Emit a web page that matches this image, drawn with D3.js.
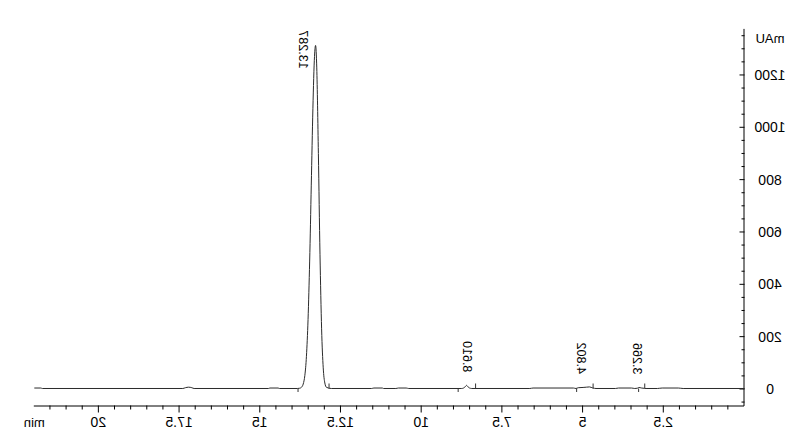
<!DOCTYPE html>
<html>
<head>
<meta charset="utf-8">
<script src="https://cdn.jsdelivr.net/npm/d3@7"></script>
<style>
  html, body { margin: 0; padding: 0; background: #fff; }
  svg { display: block; font-family: "Liberation Sans", Arial, sans-serif; }
</style>
</head>
<body>
<svg id="chart" width="803" height="444"></svg>
<script>
// ---- data ----
// retention time (min) and absorbance (mAU) of the trace
const rtMin = [0.00, 1.90, 2.05, 2.55, 2.70, 3.05, 3.10, 3.20, 3.266, 3.32, 3.40, 3.50, 3.90, 4.00,
  4.60, 4.70, 4.802, 4.90, 5.00, 5.15, 5.22, 5.30, 6.55, 6.65,
  8.45, 8.52, 8.57, 8.61, 8.65, 8.70, 8.76,
  10.40, 10.48, 10.72, 10.80, 11.18, 11.22, 11.48, 11.55,
  12.80, 12.95, 13.00, 13.05, 13.10, 13.15, 13.20, 13.25, 13.287, 13.32, 13.37, 13.42, 13.47,
  13.52, 13.57, 13.62, 13.67, 13.72, 13.78, 13.85,
  14.40, 14.45, 14.70, 14.75, 17.05, 17.12, 17.22, 17.32, 17.40, 21.75, 21.80, 22.00];
const absMAU = [0, 0, 1.8, 1.8, 0, 0, 0.5, 2, 4, 1, 0, 1.8, 1.8, 0,
  0, 2, 6, 5, 4, 3, 0, 1.8, 1.8, 0,
  0, 2, 7, 12, 7, 2, 0,
  0, 1.8, 1.8, 0, 0, 1.8, 1.8, 0,
  0, 4.5, 21, 79, 228, 513, 898, 1225, 1311, 1269, 1069, 777, 487,
  264, 123, 49, 17, 5, 1, 0,
  0, 1.8, 1.8, 0, 0, 3, 5, 3, 0, 0, 1.8, 1.8];

// peak annotations
const peakRT = [13.287, 8.610, 4.802, 3.266];
const peakHeight = [1311, 12, 6, 4];
const peakLabels = ["13.287", "8.610", "4.802", "3.266"];

// integration baseline marks: time and direction (+1 up, -1 down)
const markRT = [13.83, 12.87, 8.87, 8.33, 5.20, 4.69, 3.28, 3.09];
const markDir = [-1, 1, -1, 1, -1, 1, -1, 1];

// axis ticks
const xMajorTicks = [2.5, 5, 7.5, 10, 12.5, 15, 17.5, 20];
const xTickLabels = ["2.5", "5", "7.5", "10", "12.5", "15", "17.5", "20"];
const yMajorTicks = [0, 200, 400, 600, 800, 1000, 1200];
const yTickLabels = ["0", "200", "400", "600", "800", "1000", "1200"];
const xUnit = "min";
const yUnit = "mAU";

// ---- layout / style ----
const W = 803, H = 444;
const labelNudgePx = [13, 0, 8.6, 2];
const ink = "#000";
const tickFont = 14;
const peakFont = 12.5;

const svg = d3.select("#chart");
// the reference is a horizontally mirrored chromatogram
const g = svg.append("g").attr("transform", `translate(${W},0) scale(-1,1)`);

const x = d3.scaleLinear().domain([0, 22]).range([58.5, 768.7]);
const y = d3.scaleLinear().domain([-65, 1376]).range([405.5, 28.4]);

const xMinor = d3.range(1, 44).map(d => d * 0.5).filter(d => !xMajorTicks.includes(d));
const yMinor = d3.range(-1, 28).map(d => d * 50).filter(d => !yMajorTicks.includes(d));

// x axis
const xAxisG = g.append("g").attr("transform", `translate(0,${y.range()[0]})`);
xAxisG.call(d3.axisBottom(x).tickValues(xMajorTicks).tickSize(7).tickSizeOuter(0)
  .tickFormat((d, i) => xTickLabels[i]));
xAxisG.selectAll("text").attr("y", 17).attr("dy", "0.35em")
  .attr("font-size", tickFont).attr("font-family", "Liberation Sans, Arial, sans-serif").attr("fill", ink);
const xMinorG = g.append("g").attr("transform", `translate(0,${y.range()[0]})`);
xMinorG.call(d3.axisBottom(x).tickValues(xMinor).tickSize(4).tickSizeOuter(0).tickFormat(""));
xMinorG.select(".domain").remove();
xAxisG.select(".domain").attr("stroke", ink);

g.append("text").attr("x", x(22)).attr("y", y.range()[0] + 17).attr("dy", "0.35em")
  .attr("text-anchor", "middle").attr("font-size", 13).attr("fill", ink).text(xUnit);

// y axis
const yAxisG = g.append("g").attr("transform", `translate(${x(0)},0)`);
yAxisG.call(d3.axisLeft(y).tickValues(yMajorTicks).tickSize(-5).tickSizeOuter(0)
  .tickFormat((d, i) => yTickLabels[i]));
yAxisG.selectAll("text").attr("x", -25.5).attr("text-anchor", "middle").attr("dy", "0.35em")
  .attr("font-size", tickFont).attr("font-family", "Liberation Sans, Arial, sans-serif").attr("fill", ink);
const yMinorG = g.append("g").attr("transform", `translate(${x(0)},0)`);
yMinorG.call(d3.axisLeft(y).tickValues(yMinor).tickSize(-3).tickSizeOuter(0).tickFormat(""));
yMinorG.select(".domain").remove();
yAxisG.select(".domain").attr("stroke", ink);
g.selectAll(".tick line").attr("stroke", ink);

g.append("text").attr("x", x(0) - 25.5).attr("y", 38).attr("dy", "0.35em")
  .attr("text-anchor", "middle").attr("font-size", 13).attr("fill", ink).text(yUnit);

// trace
const pts = rtMin.map((t, i) => [t, absMAU[i]]);
const line = d3.line().x(d => x(d[0])).y(d => y(d[1])).curve(d3.curveMonotoneX);
g.append("path").datum(pts).attr("d", line)
  .attr("fill", "none").attr("stroke", "#2b2b2b").attr("stroke-width", 1);

// baseline marks
g.selectAll("line.mark").data(markRT).join("line").attr("class", "mark")
  .attr("x1", d => x(d)).attr("x2", d => x(d))
  .attr("y1", y(0))
  .attr("y2", (d, i) => y(0) - (markDir[i] > 0 ? 5 : -3.5))
  .attr("stroke", "#333").attr("stroke-width", 1);

// peak labels
const plotTop = y.range()[1];
peakRT.forEach((t, i) => {
  const tx = g.append("text").attr("font-size", peakFont).attr("fill", ink)
    .attr("text-anchor", "start").attr("dominant-baseline", "central").text(peakLabels[i]);
  const len = tx.node().getComputedTextLength();
  const ys = Math.max(y(peakHeight[i]) - 13, plotTop + len + 2);
  tx.attr("transform", `translate(${x(t) + labelNudgePx[i]},${ys}) rotate(-90)`);
});
</script>
</body>
</html>
